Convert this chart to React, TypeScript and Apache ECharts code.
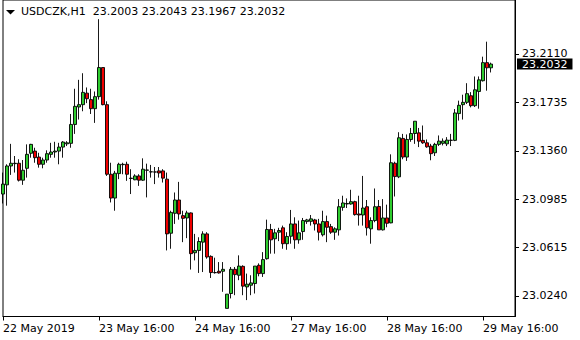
import { useEffect, useRef } from "react";
import * as echarts from "echarts";

// USDCZK H1 bars (open, close, low, high)
const opens = [
  23.1027, 23.1098, 23.1244, 23.1262, 23.1265, 23.1134, 23.1226, 23.1342, 23.1359, 23.1313,
  23.1257, 23.129, 23.1334, 23.1352, 23.1359, 23.139, 23.1415, 23.1419, 23.1565, 23.17,
  23.1718, 23.1807, 23.1757, 23.1687, 23.178, 23.2005, 23.1718, 23.118, 23.0996, 23.1185,
  23.1254, 23.1257, 23.1147, 23.1137, 23.1167, 23.1134, 23.1211, 23.1198, 23.1198, 23.1206,
  23.1206, 23.1142, 23.0724, 23.0878, 23.0981, 23.086, 23.0842, 23.0881, 23.0573, 23.0591,
  23.0655, 23.0719, 23.0545, 23.042, 23.043, 23.043, 23.0143, 23.0258, 23.0445, 23.0399,
  23.0468, 23.0309, 23.0322, 23.0335, 23.0476, 23.0412, 23.0527, 23.0753, 23.0681, 23.0732,
  23.0766, 23.0643, 23.0701, 23.0796, 23.0673, 23.0737, 23.0814, 23.0816, 23.0827, 23.0796,
  23.0712, 23.0814, 23.0775, 23.0732, 23.075, 23.0924, 23.095, 23.095, 23.0968, 23.0873,
  23.0865, 23.0929, 23.0758, 23.0822, 23.0931, 23.075, 23.0842, 23.0804, 23.1265, 23.116,
  23.1457, 23.1313, 23.1449, 23.1495, 23.15, 23.1442, 23.1423, 23.1398, 23.1346, 23.1411,
  23.1419, 23.1415, 23.1442, 23.1442, 23.1649, 23.1718, 23.1736, 23.1787, 23.171, 23.182,
  23.1903, 23.2043, 23.2003,
];
const closes = [
  23.1104, 23.1244, 23.1265, 23.1265, 23.1134, 23.1211, 23.1334, 23.1411, 23.1308, 23.1257,
  23.129, 23.1339, 23.1352, 23.1359, 23.139, 23.1429, 23.1423, 23.1565, 23.1705, 23.1718,
  23.1813, 23.1764, 23.1687, 23.178, 23.2005, 23.1718, 23.118, 23.0996, 23.1188, 23.1257,
  23.1257, 23.118, 23.115, 23.1167, 23.1134, 23.1219, 23.1213, 23.1199, 23.1197, 23.119,
  23.115, 23.0719, 23.0885, 23.0981, 23.0873, 23.0839, 23.0881, 23.0566, 23.0591, 23.066,
  23.0719, 23.054, 23.042, 23.0419, 23.0417, 23.0445, 23.0253, 23.0445, 23.0404, 23.047,
  23.0315, 23.033, 23.034, 23.047, 23.0412, 23.052, 23.0753, 23.0673, 23.0727, 23.0745,
  23.0643, 23.0699, 23.0796, 23.0673, 23.0727, 23.0822, 23.0827, 23.0835, 23.0796, 23.0732,
  23.0814, 23.077, 23.0732, 23.0758, 23.0929, 23.0958, 23.0954, 23.0968, 23.0868, 23.0865,
  23.0919, 23.0766, 23.0822, 23.0929, 23.075, 23.0842, 23.0801, 23.1269, 23.1162, 23.1462,
  23.1313, 23.1449, 23.1495, 23.159, 23.1436, 23.1423, 23.1392, 23.1339, 23.1411, 23.1436,
  23.1436, 23.1444, 23.1443, 23.1654, 23.1713, 23.1736, 23.1803, 23.171, 23.1833, 23.191,
  23.2043, 23.2003, 23.2032,
];
const lows = [
  23.0954, 23.0937, 23.1175, 23.1193, 23.1124, 23.1098, 23.1154, 23.1308, 23.1269, 23.1231,
  23.1226, 23.1269, 23.1308, 23.1308, 23.1257, 23.1308, 23.1398, 23.1385, 23.1492, 23.1603,
  23.1667, 23.173, 23.1646, 23.1577, 23.1757, 23.1713, 23.1167, 23.0962, 23.0898, 23.1142,
  23.118, 23.1129, 23.1027, 23.1134, 23.109, 23.1129, 23.1001, 23.1154, 23.1104, 23.1154,
  23.1116, 23.0591, 23.0604, 23.0796, 23.0829, 23.0655, 23.0686, 23.0443, 23.0514, 23.0417,
  23.0424, 23.0527, 23.0378, 23.0412, 23.0412, 23.0271, 23.0143, 23.022, 23.0245, 23.0361,
  23.0245, 23.0207, 23.0245, 23.0258, 23.0391, 23.0386, 23.052, 23.0566, 23.0566, 23.0663,
  23.0604, 23.0596, 23.0643, 23.0604, 23.0643, 23.0673, 23.0796, 23.0783, 23.0745, 23.0668,
  23.0699, 23.0655, 23.0719, 23.0673, 23.0706, 23.0898, 23.0919, 23.0945, 23.086, 23.0783,
  23.0783, 23.0706, 23.0643, 23.0809, 23.075, 23.0745, 23.077, 23.0801, 23.1008, 23.115,
  23.1296, 23.1283, 23.1431, 23.1415, 23.139, 23.1415, 23.1385, 23.1288, 23.1321, 23.1398,
  23.1403, 23.1398, 23.1398, 23.1436, 23.1595, 23.1603, 23.1723, 23.1697, 23.17, 23.1687,
  23.1897, 23.1826, 23.1967,
];
const highs = [
  23.1193, 23.1257, 23.1415, 23.1321, 23.1296, 23.129, 23.1411, 23.1415, 23.1385, 23.1346,
  23.1308, 23.1365, 23.1423, 23.1431, 23.1423, 23.1436, 23.1436, 23.1646, 23.1841, 23.191,
  23.1961, 23.1851, 23.1841, 23.182, 23.2379, 23.2005, 23.1744, 23.1269, 23.1206, 23.1269,
  23.1269, 23.1277, 23.1219, 23.118, 23.118, 23.1303, 23.1262, 23.1252, 23.1236, 23.1236,
  23.1219, 23.1193, 23.0898, 23.1039, 23.1121, 23.0898, 23.0898, 23.0885, 23.0719, 23.0693,
  23.0739, 23.0732, 23.0553, 23.0535, 23.0501, 23.0501, 23.0253, 23.0463, 23.0463, 23.0553,
  23.0476, 23.0412, 23.0399, 23.047, 23.0491, 23.0578, 23.0829, 23.0796, 23.0758, 23.0766,
  23.0783, 23.0732, 23.0904, 23.0847, 23.0822, 23.0842, 23.0835, 23.0865, 23.0835, 23.0835,
  23.0898, 23.086, 23.0796, 23.077, 23.0988, 23.1014, 23.0993, 23.106, 23.0975, 23.1014,
  23.1167, 23.0981, 23.0847, 23.107, 23.0981, 23.0988, 23.0945, 23.1334, 23.1277, 23.1505,
  23.1492, 23.1488, 23.1538, 23.159, 23.1538, 23.1557, 23.1449, 23.1415, 23.1423, 23.148,
  23.1457, 23.1467, 23.1492, 23.1684, 23.1749, 23.1795, 23.1884, 23.1815, 23.1936, 23.1936,
  23.2089, 23.2205, 23.2043,
];

const slotCount = 129; // bar slots incl. empty chart shift on the right
const tickIndex = [0, 24, 48, 72, 96, 120];
const tickLabels = [
  "22 May 2019",
  "23 May 16:00",
  "24 May 16:00",
  "27 May 16:00",
  "28 May 16:00",
  "29 May 16:00",
];
const priceTicks = [23.024, 23.0615, 23.0985, 23.136, 23.1735, 23.211];
const symbolName = "USDCZK,H1";
const lastPrice = 23.2032;

const FONT = "'DejaVu Sans', sans-serif";
const Y_MIN = 23.00802;
const Y_MAX = 23.25272;

export default function App() {
  const ref = useRef<HTMLDivElement>(null);

  useEffect(() => {
    if (!ref.current) return;
    const chart = echarts.init(ref.current, null, { renderer: "svg" });

    const categories = Array.from({ length: slotCount }, (_, i) => String(i));
    const candles = opens.map((o, i) => [o, closes[i], lows[i], highs[i]]);
    const n = opens.length - 1;
    const header =
      symbolName +
      "  " +
      [opens[n], highs[n], lows[n], closes[n]].map((v) => v.toFixed(4)).join(" ");

    const showTick = (index: number) => tickIndex.includes(index);

    chart.setOption({
      animation: false,
      backgroundColor: "#ffffff",
      textStyle: { fontFamily: FONT },
      title: {
        text: header,
        left: 21,
        top: 6,
        padding: 0,
        textStyle: {
          fontFamily: FONT,
          fontSize: 11,
          fontWeight: "normal",
          color: "#000000",
        },
      },
      graphic: [
        {
          type: "polygon",
          shape: {
            points: [
              [6, 10],
              [15, 10],
              [10.5, 14.5],
            ],
          },
          style: { fill: "#000000" },
          z: 100,
        },
      ],
      grid: {
        left: 3,
        right: 65,
        top: -2,
        bottom: 23.5,
        show: true,
        borderColor: "#000000",
        borderWidth: 1,
        backgroundColor: "#ffffff",
      },
      xAxis: {
        type: "category",
        data: categories,
        boundaryGap: false,
        axisLine: { show: true, lineStyle: { color: "#000000", width: 1 } },
        axisTick: {
          show: true,
          interval: (index: number) => showTick(index),
          length: 4,
          lineStyle: { color: "#000000" },
        },
        axisLabel: {
          show: true,
          interval: (index: number) => showTick(index),
          formatter: (_v: string, index: number) => {
            const k = tickIndex.indexOf(index);
            return k >= 0 ? tickLabels[k] : "";
          },
          align: "left",
          margin: 6,
          color: "#000000",
          fontSize: 11,
          fontFamily: FONT,
          hideOverlap: false,
        },
        splitLine: { show: false },
      },
      yAxis: [
        {
          type: "value",
          position: "right",
          min: Y_MIN,
          max: Y_MAX,
          scale: true,
          axisLine: { show: true, lineStyle: { color: "#000000", width: 1 } },
          axisTick: {
            show: true,
            length: 4,
            customValues: priceTicks,
            lineStyle: { color: "#000000" },
          },
          axisLabel: {
            show: true,
            customValues: priceTicks,
            formatter: (v: number) => v.toFixed(4),
            margin: 7,
            color: "#000000",
            fontSize: 11,
            fontFamily: FONT,
          },
          splitLine: { show: false },
        },
        {
          type: "value",
          position: "right",
          min: Y_MIN,
          max: Y_MAX,
          scale: true,
          axisLine: { show: false },
          axisTick: { show: false },
          splitLine: { show: false },
          axisLabel: {
            show: true,
            customValues: [lastPrice],
            formatter: (v: number) => v.toFixed(4),
            margin: 2,
            color: "#ffffff",
            backgroundColor: "#000000",
            padding: [0, 5, 0, 5],
            lineHeight: 11,
            fontSize: 11,
            fontFamily: FONT,
          },
          z: 10,
        },
      ],
      series: [
        {
          type: "candlestick",
          data: candles,
          barWidth: 3,
          itemStyle: {
            color: "#2ECC2E",
            color0: "#F00000",
            borderColor: "#000000",
            borderColor0: "#000000",
            borderWidth: 0.9,
          },
        },
      ],
    });

    return () => chart.dispose();
  }, []);

  return (
    <div
      ref={ref}
      style={{ position: "fixed", left: 0, top: 0, width: 580, height: 340 }}
    />
  );
}
